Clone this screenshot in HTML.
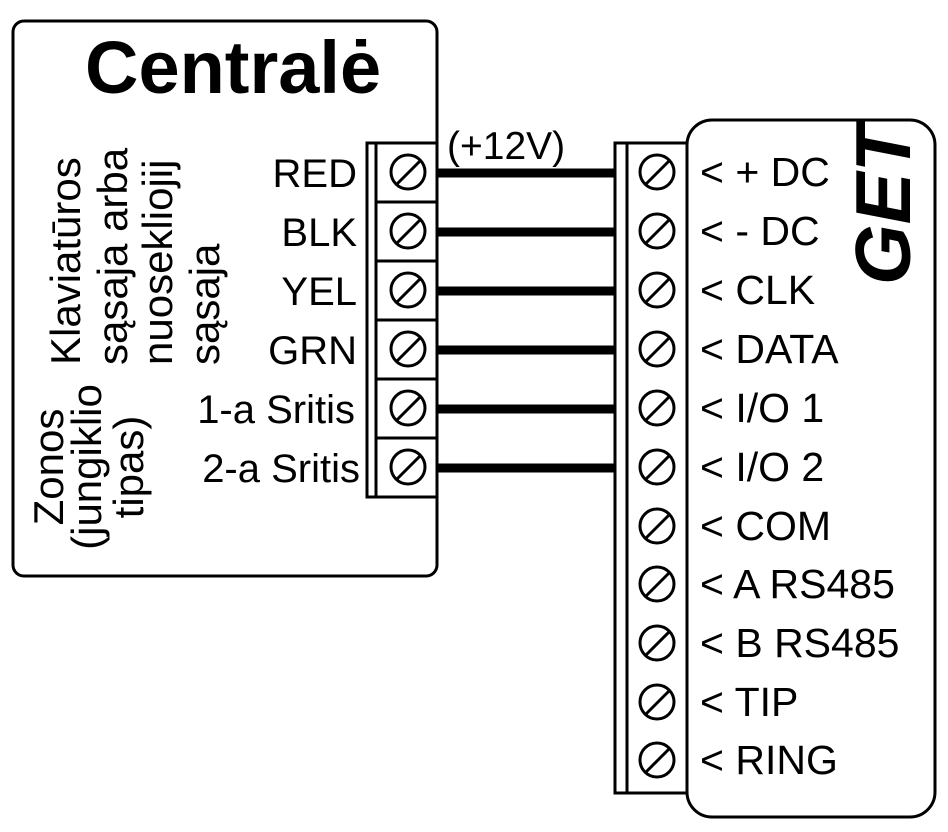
<!DOCTYPE html>
<html><head><meta charset="utf-8"><style>
html,body{margin:0;padding:0;background:#fff;}
svg{display:block;}
text{font-family:"Liberation Sans",Arial,sans-serif;fill:#000;}
</style></head><body>
<svg width="948" height="832" viewBox="0 0 948 832" xmlns="http://www.w3.org/2000/svg">
<defs>
<g id="s"><circle cx="0" cy="0" r="17"/><line x1="-11" y1="12" x2="12" y2="-11"/></g>
</defs>
<rect x="13" y="21" width="424" height="555" rx="11" fill="#fff" stroke="#000" stroke-width="3"/>
<text x="85" y="93" font-size="74" font-weight="bold">Centralė</text>
<g font-size="42">
<text transform="translate(80,365) rotate(-90)">Klaviatūros</text>
<text transform="translate(127,365) rotate(-90)">sąsaja arba</text>
<text transform="translate(172,365) rotate(-90)">nuosekliojij</text>
<text transform="translate(219,365) rotate(-90)">sąsaja</text>
<text transform="translate(63,467) rotate(-90)" text-anchor="middle">Zonos</text>
<text transform="translate(101,467) rotate(-90)" text-anchor="middle">(jungiklio</text>
<text transform="translate(143,467) rotate(-90)" text-anchor="middle">tipas)</text>
</g>
<g font-size="40" text-anchor="end">
<text x="357" y="187">RED</text>
<text x="357" y="246">BLK</text>
<text x="357" y="305">YEL</text>
<text x="357" y="364">GRN</text>
<text x="355" y="423">1-a Sritis</text>
<text x="360" y="482">2-a Sritis</text>
</g>
<rect x="367" y="143" width="70" height="354" fill="#fff" stroke="#000" stroke-width="3"/>
<line x1="376" y1="143" x2="376" y2="497" stroke="#000" stroke-width="3"/>
<g stroke="#000" stroke-width="3">
<line x1="376" y1="202" x2="437" y2="202"/>
<line x1="376" y1="261" x2="437" y2="261"/>
<line x1="376" y1="320" x2="437" y2="320"/>
<line x1="376" y1="379" x2="437" y2="379"/>
<line x1="376" y1="438" x2="437" y2="438"/>
</g>
<line x1="437" y1="120" x2="437" y2="143" stroke="#000" stroke-width="3"/>
<text x="447" y="159" font-size="39">(+12V)</text>
<g stroke="#000" stroke-width="9">
<line x1="437" y1="173" x2="615" y2="173"/>
<line x1="437" y1="232" x2="615" y2="232"/>
<line x1="437" y1="291" x2="615" y2="291"/>
<line x1="437" y1="350" x2="615" y2="350"/>
<line x1="437" y1="409" x2="615" y2="409"/>
<line x1="437" y1="468" x2="615" y2="468"/>
</g>
<rect x="687" y="120" width="248" height="697" rx="25" fill="#fff" stroke="#000" stroke-width="3"/>
<text transform="translate(910,285) rotate(-90)" font-size="78" font-weight="bold" font-style="italic">GET</text>
<rect x="615" y="143" width="72" height="650" fill="#fff" stroke="#000" stroke-width="3"/>
<line x1="627" y1="143" x2="627" y2="793" stroke="#000" stroke-width="3"/>
<g fill="none" stroke="#000" stroke-width="3">
<use href="#s" transform="translate(408,172)"/>
<use href="#s" transform="translate(408,231)"/>
<use href="#s" transform="translate(408,290)"/>
<use href="#s" transform="translate(408,349)"/>
<use href="#s" transform="translate(408,408)"/>
<use href="#s" transform="translate(408,467)"/>
<use href="#s" transform="translate(657,172)"/>
<use href="#s" transform="translate(657,231)"/>
<use href="#s" transform="translate(657,290)"/>
<use href="#s" transform="translate(657,349)"/>
<use href="#s" transform="translate(657,408)"/>
<use href="#s" transform="translate(657,467)"/>
<use href="#s" transform="translate(657,526)"/>
<use href="#s" transform="translate(657,584)"/>
<use href="#s" transform="translate(657,643)"/>
<use href="#s" transform="translate(657,702)"/>
<use href="#s" transform="translate(657,760)"/>
</g>
<g font-size="41">
<text x="700" y="186">&lt; + DC</text>
<text x="700" y="245">&lt; - DC</text>
<text x="700" y="304">&lt; CLK</text>
<text x="700" y="363">&lt; DATA</text>
<text x="700" y="422">&lt; I/O 1</text>
<text x="700" y="481">&lt; I/O 2</text>
<text x="700" y="540">&lt; COM</text>
<text x="700" y="598">&lt; A RS485</text>
<text x="700" y="657">&lt; B RS485</text>
<text x="700" y="716">&lt; TIP</text>
<text x="700" y="774">&lt; RING</text>
</g>
</svg>
</body></html>
